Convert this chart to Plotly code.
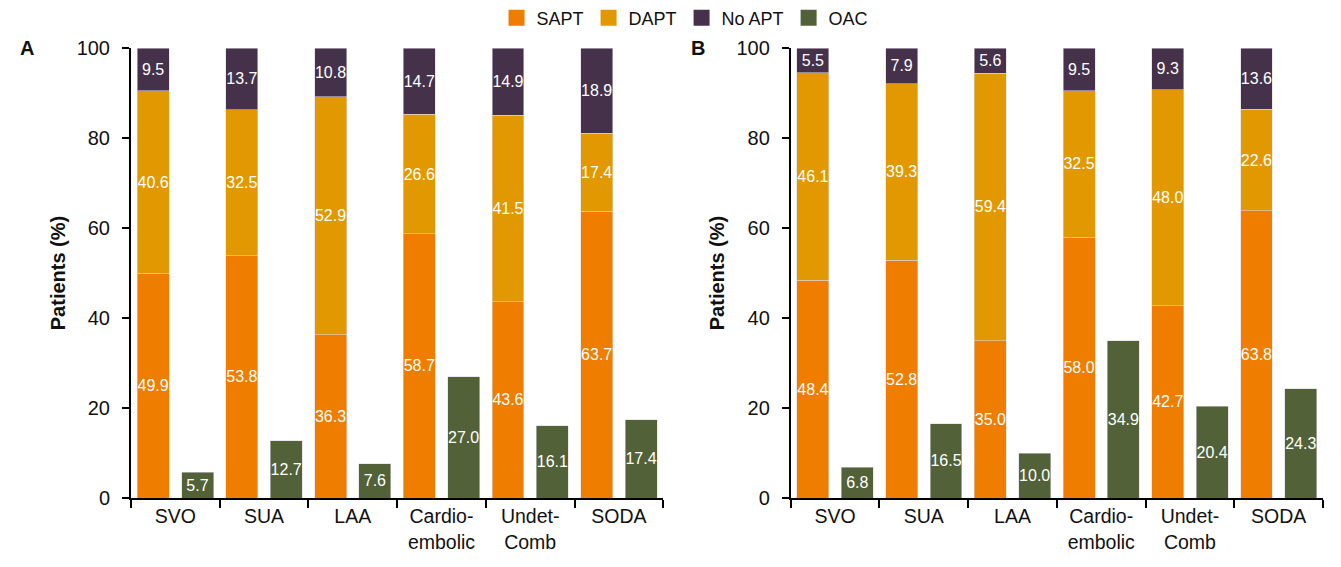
import plotly.graph_objects as go
from plotly.subplots import make_subplots

categories = ["SVO", "SUA", "LAA", "Cardio-<br>embolic", "Undet-<br>Comb", "SODA"]
series_names = ["SAPT", "DAPT", "No APT", "OAC"]

# Panel A
a_sapt = [49.9, 53.8, 36.3, 58.7, 43.6, 63.7]
a_dapt = [40.6, 32.5, 52.9, 26.6, 41.5, 17.4]
a_noapt = [9.5, 13.7, 10.8, 14.7, 14.9, 18.9]
a_oac = [5.7, 12.7, 7.6, 27.0, 16.1, 17.4]

# Panel B
b_sapt = [48.4, 52.8, 35.0, 58.0, 42.7, 63.8]
b_dapt = [46.1, 39.3, 59.4, 32.5, 48.0, 22.6]
b_noapt = [5.5, 7.9, 5.6, 9.5, 9.3, 13.6]
b_oac = [6.8, 16.5, 10.0, 34.9, 20.4, 24.3]

y_ticks = [0, 20, 40, 60, 80, 100]

COLORS = {"SAPT": "#EE7D00", "DAPT": "#E29800", "No APT": "#45324A", "OAC": "#526137"}
FONT = "Liberation Sans, Arial, sans-serif"
TXT = "#111111"

n = len(categories)
idx = list(range(n))
x_stack = [i + 0.25 for i in idx]
x_oac = [i + 0.75 for i in idx]
BAR_W = 0.36

fig = make_subplots(rows=1, cols=2, horizontal_spacing=0.107)

panels = [
    (1, a_sapt, a_dapt, a_noapt, a_oac),
    (2, b_sapt, b_dapt, b_noapt, b_oac),
]
for col, sapt, dapt, noapt, oac in panels:
    for name, xs, ys in [("SAPT", x_stack, sapt), ("DAPT", x_stack, dapt),
                         ("No APT", x_stack, noapt), ("OAC", x_oac, oac)]:
        fig.add_trace(go.Bar(
            x=xs, y=ys, name=name, width=BAR_W,
            marker=dict(color=COLORS[name], line=dict(width=0.6, color="rgba(220,215,220,0.9)")),
            texttemplate="%{y:.1f}", textposition="inside", insidetextanchor="middle",
            textangle=0, constraintext="none",
            textfont=dict(color="white", size=16, family=FONT),
            showlegend=False, legendgroup=name, hoverinfo="skip",
        ), row=1, col=col)

# legend entries (square swatches)
for name in series_names:
    fig.add_trace(go.Scatter(
        x=[None], y=[None], mode="markers", name=name, legendgroup=name,
        marker=dict(symbol="square", size=16, color=COLORS[name]),
        showlegend=True, hoverinfo="skip"), row=1, col=1)

fig.update_layout(
    barmode="stack",
    width=1333, height=559,
    margin=dict(l=122.7, r=17.7, t=39.5, b=68.5, autoexpand=False),
    plot_bgcolor="white", paper_bgcolor="white",
    font=dict(family=FONT, size=19, color=TXT),
    legend=dict(orientation="h", x=0.4648, xanchor="center", y=1.0665, yanchor="middle",
                font=dict(size=18, family=FONT, color=TXT), itemwidth=30,
                traceorder="normal", bgcolor="rgba(0,0,0,0)"),
)

for col in (1, 2):
    fig.update_xaxes(
        range=[0, n], tickvals=[i + 0.5 for i in idx], ticktext=categories,
        ticks="", showgrid=False, zeroline=False,
        showline=True, linecolor="black", linewidth=2,
        tickfont=dict(size=19.5, family=FONT, color=TXT),
        minor=dict(tickvals=list(range(n + 1)), ticks="outside", ticklen=8,
                   tickwidth=2, tickcolor="black", showgrid=False),
        row=1, col=col)
    fig.update_yaxes(
        range=[0, 100], tickvals=y_ticks, ticks="outside", ticklen=7, tickwidth=1.5,
        tickcolor="black", showgrid=False, zeroline=False,
        showline=True, linecolor="black", linewidth=2,
        ticklabelstandoff=8,
        tickfont=dict(size=20, family=FONT, color=TXT),
        title=dict(text="<b>Patients (%)</b>", font=dict(size=20, family=FONT, color=TXT),
                   standoff=6),
        row=1, col=col)

fig.add_annotation(text="<b>A</b>", xref="paper", yref="paper", x=-0.0875, y=1.0,
                   xanchor="center", yanchor="middle", showarrow=False,
                   font=dict(size=20, family=FONT, color=TXT))
fig.add_annotation(text="<b>B</b>", xref="paper", yref="paper", x=0.4754, y=1.0,
                   xanchor="center", yanchor="middle", showarrow=False,
                   font=dict(size=20, family=FONT, color=TXT))

fig.write_html("out.html")
